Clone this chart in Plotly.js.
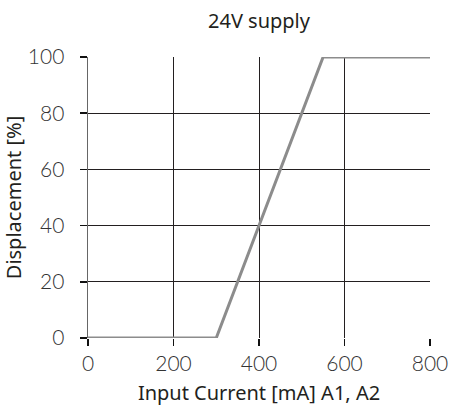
<!DOCTYPE html>
<html><head><meta charset="utf-8">
<script src="https://cdn.plot.ly/plotly-3.0.1.min.js"></script>
<style>body{margin:0;background:#fff}#c{width:449px;height:407px}</style>
</head><body><div id="c"></div>
<script>
const currentMA = [0, 300, 550, 800];
const displacementPct = [0, 0, 100, 100];
const xTicks = [0, 200, 400, 600, 800];
const yTicks = [0, 20, 40, 60, 80, 100];
const titleFam = '"Noto Sans", "Open Sans", sans-serif';
const tickFam = 'Lato, "Noto Sans", sans-serif';
Plotly.newPlot('c', [{
  x: currentMA, y: displacementPct, type: 'scatter', mode: 'lines',
  line: {color: '#8c8c8c', width: 3}, cliponaxis: false, hoverinfo: 'none'
}], {
  width: 449, height: 407,
  margin: {l: 88, r: 19, t: 57, b: 69},
  paper_bgcolor: '#fff', plot_bgcolor: '#fff',
  font: {family: titleFam, color: '#222', size: 19},
  title: {text: '24V supply', font: {size: 20, color: '#231f20'}, x: 0.5, xref: 'paper', xanchor: 'center', y: 0.948, yanchor: 'middle'},
  xaxis: {range: [0, 800], tickvals: xTicks, ticktext: xTicks.map(String), showgrid: true, gridcolor: '#231f20', gridwidth: 1,
    zeroline: false, showline: false, ticks: 'outside', ticklen: 7, tickcolor: '#111', tickwidth: 1.5,
    tickfont: {family: tickFam, size: 21, color: '#333', weight: 300},
    title: {text: 'Input Current [mA] A1, A2', font: {size: 20, color: '#231f20'}, standoff: 11}, fixedrange: true},
  yaxis: {range: [0, 100], tickvals: yTicks, ticktext: yTicks.map(v => v + '  '), showgrid: true, gridcolor: '#231f20', gridwidth: 1,
    zeroline: false, showline: true, linecolor: '#666', linewidth: 1, ticks: 'outside', ticklen: 7, tickcolor: '#111', tickwidth: 1.5,
    tickfont: {family: tickFam, size: 21, color: '#333', weight: 300},
    title: {text: 'Displacement [%]', font: {size: 20, color: '#231f20'}, standoff: 2}, fixedrange: true},
  showlegend: false
}, {displayModeBar: false, staticPlot: true});
</script></body></html>
